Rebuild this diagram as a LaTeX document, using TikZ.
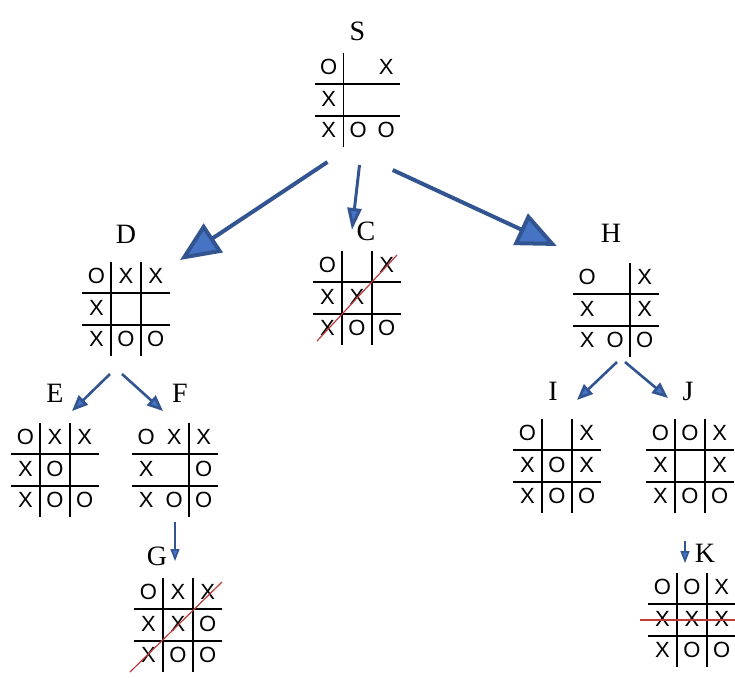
\documentclass[tikz,border=0pt]{standalone}
\usepackage{fontspec}
\setmainfont{Liberation Serif}
\newfontfamily\boardfont{Liberation Sans}
\usepackage{array}
\usetikzlibrary{arrows.meta,positioning}
\newcolumntype{C}{>{\centering\arraybackslash}p{10pt}}
\setlength{\tabcolsep}{2pt}
\setlength{\arrayrulewidth}{0.8pt}
\renewcommand{\arraystretch}{1.25}
\definecolor{headblue}{RGB}{70,115,195}
\definecolor{shaftblue}{RGB}{50,85,145}
\definecolor{winred}{RGB}{190,60,60}

\begin{document}
\begin{tikzpicture}[x=0.5pt, y=-0.5pt,
      board/.style={inner sep=0pt, font=\boardfont\fontsize{11}{12}\selectfont},
      lbl/.style={inner sep=0pt, font=\fontsize{14}{16}\selectfont},
      bigar/.style={-{Triangle[length=20pt,width=17pt,fill=headblue]}, line width=2pt, draw=shaftblue},
      midar/.style={-{Triangle[length=11pt,width=7pt,fill=headblue]}, line width=1.5pt, draw=shaftblue},
      ar/.style={-{Triangle[length=8pt,width=6.5pt,fill=headblue]}, line width=1.3pt, draw=shaftblue},
      thinar/.style={-{Triangle[length=6pt,width=4.5pt,fill=headblue]}, line width=0.8pt, draw=shaftblue},
      win/.style={draw=winred, line width=0.6pt}]
    \useasboundingbox (0,0) rectangle (735,677);
    % boards
    \node[board] (s) at (357.5,100) {\begin{tabular}{C|CC} O & & X\\\hline X & & \\\hline X & O & O\end{tabular}};
    \node[board] (d) at (126,309) {\begin{tabular}{C|C|C} O & X & X\\\hline X & & \\\hline X & O & O\end{tabular}};
    \node[board] (c) at (357,298) {\begin{tabular}{C|C|C} O & & X\\\hline X & X & \\\hline X & O & O\end{tabular}};
    \node[board] (h) at (616,310) {\begin{tabular}{CC|C} O & & X\\\hline X & & X\\\hline X & O & O\end{tabular}};
    \node[board] (e) at (55,470) {\begin{tabular}{C|C|C} O & X & X\\\hline X & O & \\\hline X & O & O\end{tabular}};
    \node[board] (f) at (175,470) {\begin{tabular}{CC|C} O & X & X\\\hline X & & O\\\hline X & O & O\end{tabular}};
    \node[board] (i) at (557,466) {\begin{tabular}{C|C|C} O & & X\\\hline X & O & X\\\hline X & O & O\end{tabular}};
    \node[board] (j) at (690,466) {\begin{tabular}{C|C|C} O & O & X\\\hline X & & X\\\hline X & O & O\end{tabular}};
    \node[board] (g) at (178,625) {\begin{tabular}{C|C|C} O & X & X\\\hline X & X & O\\\hline X & O & O\end{tabular}};
    \node[board] (k) at (692,620) {\begin{tabular}{C|C|C} O & O & X\\\hline X & X & X\\\hline X & O & O\end{tabular}};
    % labels
    \node[lbl, above=6pt of s] (sl) {S};
    \node[lbl, above=9pt of d] (dl) {D};
    \node[lbl, above=5pt of c, xshift=4.5pt] (cl) {C};
    \node[lbl, above=10pt of h, xshift=-2.5pt] (hl) {H};
    \node[lbl, above=10pt of e] (el) {E};
    \node[lbl, above=10pt of f, xshift=2.5pt] (fl) {F};
    \node[lbl, above=9pt of i, xshift=-2pt] (il) {I};
    \node[lbl, above=9pt of j, xshift=-1pt] (jl) {J};
    \node[lbl, above=6pt of g, xshift=-10.5pt] (gl) {G};
    \node[lbl, above=5pt of k, xshift=6.5pt] (kl) {K};
    % moves
    \draw[bigar] ([xshift=-15pt,yshift=-7.5pt]s.south) -- ([xshift=5pt,yshift=1pt]d.north east);
    \draw[midar] ([xshift=1pt,yshift=-9pt]s.south) -- ([xshift=-2.5pt,yshift=10.5pt]c.north);
    \draw[bigar] ([xshift=-4pt,yshift=-11.5pt]s.south east) -- ([xshift=-8pt,yshift=8.5pt]h.north west);
    \draw[ar] ([xshift=-8pt,yshift=-9pt]d.south) -- ([xshift=8.5pt,yshift=6pt]e.north);
    \draw[ar] ([xshift=-2pt,yshift=-9pt]d.south) -- ([xshift=-6pt,yshift=6pt]f.north);
    \draw[ar] ([xshift=0.5pt,yshift=-2.5pt]h.south) -- ([xshift=10pt,yshift=9.5pt]i.north);
    \draw[ar] ([xshift=4.5pt,yshift=-2.5pt]h.south) -- ([xshift=-11pt,yshift=10.5pt]j.north);
    \draw[thinar] ([yshift=-2.5pt]f.south) -- ([xshift=-1.5pt,yshift=8.5pt]g.north);
    \draw[thinar] ([xshift=-2.5pt,yshift=-14pt]j.south) -- ([xshift=-3.5pt,yshift=5pt]k.north);
    % winning lines
    \draw[win] ([shift={(2pt,2pt)}]c.south west) -- ([shift={(-2pt,-2pt)}]c.north east);
    \draw[win] ([xshift=-2pt]g.south west) -- ([yshift=-2pt]g.north east);
    \draw[win] ([xshift=-4pt]k.west) -- ([xshift=1pt]k.east);
\end{tikzpicture}
\end{document}
